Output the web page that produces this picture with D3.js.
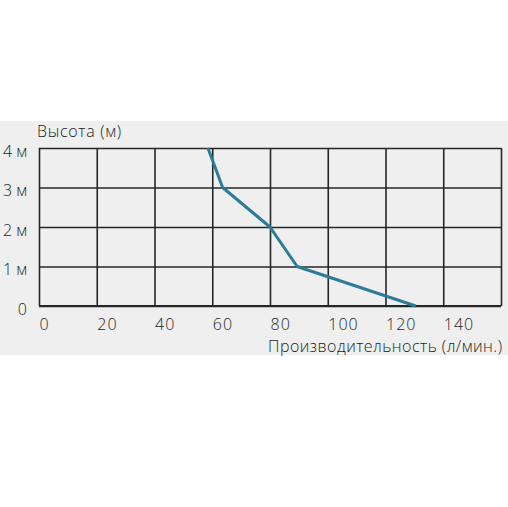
<!DOCTYPE html>
<html>
<head>
<meta charset="utf-8">
<script src="https://cdn.jsdelivr.net/npm/d3@7"></script>
<style>
  html, body { margin: 0; padding: 0; background: #fff; }
  svg { display: block; }
  text { font-family: "Open Sans", Lato, sans-serif; font-weight: 300; fill: #1e1e1e; }
</style>
</head>
<body>
<svg id="chart" width="508" height="507"></svg>
<script>
// pump curve: flow (l/min) at each head (m)
var heads = [4, 3, 2, 1, 0];
var flows = [58.5, 63.6, 80, 89.4, 130.5];

var xTicks = [0, 20, 40, 60, 80, 100, 120, 140, 160];
var xTickLabels = ["0", "20", "40", "60", "80", "100", "120", "140", ""];
var yTicks = [0, 1, 2, 3, 4];
var yTickLabels = ["0", "1 м", "2 м", "3 м", "4 м"];

var yTitle = "Высота (м)";
var xTitle = "Производительность (л/мин.)";

var svg = d3.select("#chart");

svg.append("rect")
    .attr("x", 0).attr("y", 121)
    .attr("width", 508).attr("height", 234)
    .attr("fill", "#eeefee");

var x = d3.scaleLinear().domain([0, 160]).range([39, 501]);
var y = d3.scaleLinear().domain([0, 4]).range([306, 148]);

var gridColor = "#262626";
var fontFam = "'Open Sans', Lato, sans-serif";

// vertical grid + x labels
var gx = svg.append("g")
    .attr("transform", "translate(0," + y(0) + ")")
    .call(d3.axisBottom(x)
      .tickValues(xTicks)
      .tickSize(-(y(0) - y(4)))
      .tickFormat((d, i) => xTickLabels[i]));
gx.select(".domain").remove();
gx.selectAll(".tick line").attr("stroke", gridColor).attr("stroke-width", 1.6);
gx.selectAll(".tick text")
    .attr("y", 24).attr("dy", null).attr("x", 0)
    .attr("text-anchor", "start")
    .attr("font-size", 16)
    .attr("letter-spacing", 1)
    .attr("font-family", fontFam);

// horizontal grid + y labels
var gy = svg.append("g")
    .attr("transform", "translate(" + x(0) + ",0)")
    .call(d3.axisLeft(y)
      .tickValues(yTicks)
      .tickSize(-(x(160) - x(0)))
      .tickFormat((d, i) => yTickLabels[i]));
gy.select(".domain").remove();
gy.selectAll(".tick line").attr("stroke", gridColor).attr("stroke-width", 1.6);
gy.selectAll(".tick text")
    .attr("x", 27 - x(0)).attr("dy", null).attr("y", 8)
    .attr("text-anchor", "end")
    .attr("font-size", 16)
    .attr("font-family", fontFam);

// bottom axis a bit heavier
svg.append("line")
    .attr("x1", x(0)).attr("x2", x(160))
    .attr("y1", y(0)).attr("y2", y(0))
    .attr("stroke", gridColor).attr("stroke-width", 2.2);

var data = heads.map((h, i) => ({ h: h, q: flows[i] }));

var line = d3.line()
    .x(d => x(d.q))
    .y(d => y(d.h));

svg.append("path")
    .attr("fill", "none")
    .attr("stroke", "#2b7c9a")
    .attr("stroke-width", 3)
    .attr("stroke-linejoin", "round")
    .attr("d", line(data));

svg.append("text")
    .attr("x", 37).attr("y", 137)
    .attr("font-size", 16)
    .attr("textLength", 84)
    .text(yTitle);

svg.append("text")
    .attr("x", 268).attr("y", 352)
    .attr("font-size", 16)
    .attr("textLength", 234)
    .text(xTitle);
</script>
</body>
</html>
